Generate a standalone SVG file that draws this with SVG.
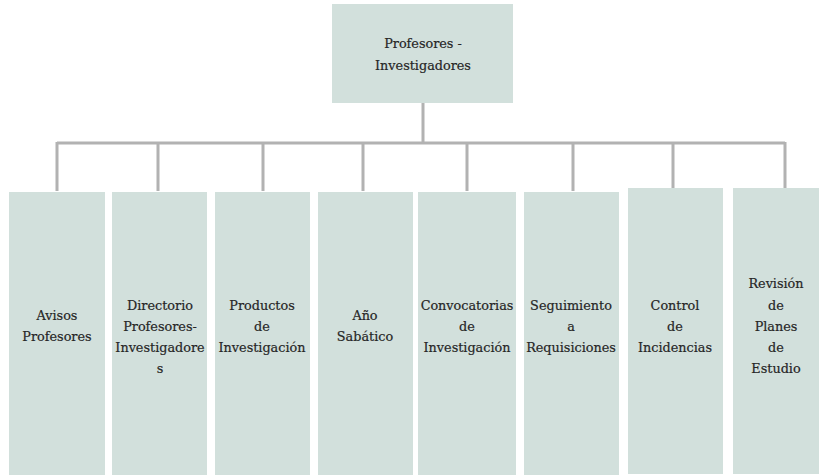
<svg xmlns="http://www.w3.org/2000/svg" width="819" height="476" viewBox="0 0 819 476">
<style>
.box{fill:#d2e0dc}
.t{font-family:"DejaVu Serif","Liberation Serif",serif;font-size:12.8px;fill:#262626;text-anchor:middle;dominant-baseline:central;stroke:#262626;stroke-width:0.2}
.c{stroke:#b2b2b2;stroke-width:3;fill:none}
</style>
<rect width="819" height="476" fill="#ffffff"/>
<g id="connectors">
<path class="c" d="M423 103V143M57 143H785M57 142V191M158 142V191M263 142V191M363 142V191M467 142V191M573 142V191M673 142V189M785 142V189"/>
</g>
<g id="root"><rect class="box" x="332" y="4" width="181" height="99"/><text class="t" x="423" y="43">Profesores -</text><text class="t" x="423" y="65">Investigadores</text></g>
<g id="n1"><rect class="box" x="9" y="192" width="96" height="283"/><text class="t" x="57" y="315">Avisos</text><text class="t" x="57" y="336">Profesores</text></g>
<g id="n2"><rect class="box" x="112" y="192" width="95" height="283"/><text class="t" x="160" y="305">Directorio</text><text class="t" x="160" y="326">Profesores-</text><text class="t" x="160" y="347">Investigadore</text><text class="t" x="160" y="368">s</text></g>
<g id="n3"><rect class="box" x="215" y="192" width="95" height="283"/><text class="t" x="262" y="305">Productos</text><text class="t" x="262" y="326">de</text><text class="t" x="262" y="347">Investigación</text></g>
<g id="n4"><rect class="box" x="318" y="192" width="95" height="283"/><text class="t" x="365" y="315">Año</text><text class="t" x="365" y="336">Sabático</text></g>
<g id="n5"><rect class="box" x="418" y="192" width="98" height="283"/><text class="t" x="467" y="305">Convocatorias</text><text class="t" x="467" y="326">de</text><text class="t" x="467" y="347">Investigación</text></g>
<g id="n6"><rect class="box" x="524" y="192" width="95" height="283"/><text class="t" x="571" y="305">Seguimiento</text><text class="t" x="571" y="326">a</text><text class="t" x="571" y="347">Requisiciones</text></g>
<g id="n7"><rect class="box" x="628" y="188" width="95" height="286"/><text class="t" x="675" y="305">Control</text><text class="t" x="675" y="326">de</text><text class="t" x="675" y="347">Incidencias</text></g>
<g id="n8"><rect class="box" x="733" y="188" width="86" height="286"/><text class="t" x="776" y="283">Revisión</text><text class="t" x="776" y="305">de</text><text class="t" x="776" y="326">Planes</text><text class="t" x="776" y="347">de</text><text class="t" x="776" y="368">Estudio</text></g>
</svg>
